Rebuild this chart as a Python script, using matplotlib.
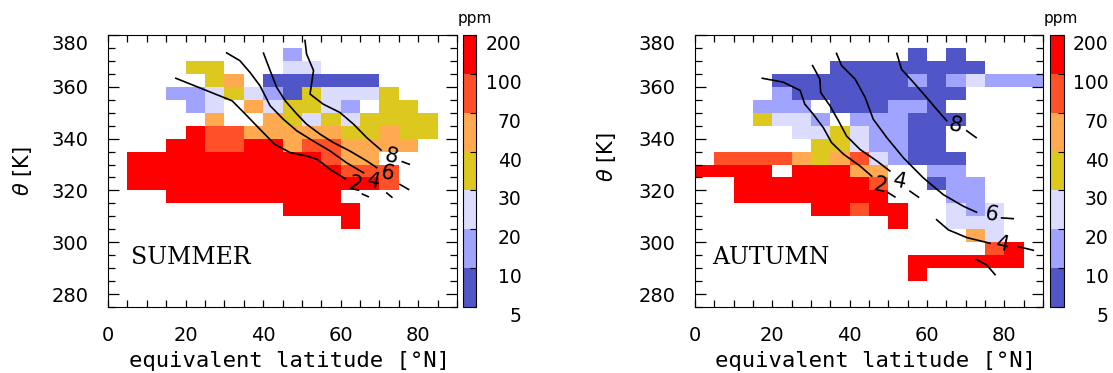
import numpy as np
import matplotlib
matplotlib.use("Agg")
from matplotlib import pyplot as plt
from matplotlib.colors import ListedColormap, BoundaryNorm
from matplotlib.transforms import blended_transform_factory

plt.rcParams['font.family'] = 'DejaVu Sans'
plt.rcParams['mathtext.fontset'] = 'dejavusans'

# 5 deg x 5 K cells
lat_edges = np.arange(0, 95, 5)
theta_edges = np.arange(275, 385, 5)

levels = [5, 10, 20, 30, 40, 70, 100, 200]
colors = ['#5055c8', '#a0a4ff', '#dcdcff', '#dcc81e', '#ffaa50', '#ff5028', '#ff0000']
# representative ppm for each class code (1 = 5-10 ... 7 = 100-200), '.' = no data
bin_ppm = {'1': 7, '2': 15, '3': 25, '4': 35, '5': 55, '6': 85, '7': 150}

# rows from top (375-380 K) to bottom (275-280 K), columns 0-5 ... 85-90 degN
summer_rows = [
    "..................",
    ".........2........",
    "....44...33.......",
    ".....45.111111....",
    "...223432143334...",
    "....23.534432.44..",
    ".....5..543434444.",
    "....7665555544544.",
    "...7766775665555..",
    ".7777777777655....",
    ".77777777777666...",
    ".77777777777776...",
    "...777777777......",
    ".........7777.....",
    "............7.....",
    "..................",
    "..................",
    "..................",
    "..................",
    "..................",
    "..................",
]

autumn_rows = [
    "..................",
    "...........1.1....",
    ".......11111111...",
    "....11111112123222",
    "....2111111111....",
    "...222.111221.....",
    "...4332.222111....",
    ".....33432211.....",
    "......4432211.....",
    ".6666545632111....",
    "7777.77755..22....",
    "..77777776..122...",
    "..77777777...22...",
    "......77677..323..",
    "..........7..333..",
    "..............53..",
    "...............67.",
    "...........777777.",
    "...........7......",
    "..................",
    "..................",
]

# contours: (label, lat, theta, label position, dash lat, dash theta)
summer_contours = [
    ("2", [17.5, 24.5, 32, 35, 39.2, 43, 47, 51.2, 54, 57.3, 61.2],
          [363.3, 359.1, 354.6, 350.1, 343.6, 337.8, 334.6, 333.3, 332, 328.1, 324.5],
          (63.8, 322.3), [65.6, 67.1], [318.6, 317.6]),
    ("4", [30.6, 34, 36.6, 39.2, 41.8, 45.2, 48.7, 52.9, 57.3, 61.5, 65.9],
          [373.1, 370.1, 365.6, 360.4, 352.7, 347.5, 343, 339.1, 335.2, 330.7, 326.8],
          (68.4, 323.4), [71.9, 73.2], [319, 317.4]),
    ("6", [40.1, 41.8, 43.5, 45.7, 48.7, 51.2, 54.7, 58.1, 62.4, 66.7, 69.3],
          [373, 366.3, 359.8, 354.6, 349.5, 345.6, 341.7, 338.5, 335.2, 331.4, 328.8],
          (72.0, 326.4), [75.3, 77.5], [322.3, 320.4]),
    ("8", [50.8, 51.2, 53, 52.1, 55.5, 59.8, 63.3, 66.7, 70.4],
          [377.9, 372.7, 366.3, 357.2, 353.3, 350.1, 345.6, 340.4, 335.6],
          (73.0, 333.2), [75.9, 77.7], [331.1, 330.1]),
]

autumn_contours = [
    ("2", [17.4, 22.8, 27.2, 28.4, 30.6, 33.2, 35.3, 38.4, 42.7, 45.7],
          [363.3, 361.8, 358.6, 353.3, 349.4, 344.2, 338.5, 334, 329.4, 325.5],
          (47.8, 321.8), [50, 51.7], [319.1, 317.5]),
    ("4", [30.4, 32.3, 32.5, 34.9, 37.1, 39.2, 42.7, 47, 50.4],
          [368.2, 363, 357.8, 352.7, 346.9, 341, 335.8, 331.4, 327.5],
          (53.0, 323.6), [55.6, 57.8], [319.7, 317.4]),
    ("6", [36.6, 37.9, 41.4, 44, 46.1, 49.6, 53.9, 59, 64.2, 69.4, 72.8],
          [372.9, 368.2, 363, 355.9, 347.5, 340.4, 332.6, 324.9, 318.4, 313.9, 311.6],
          (76.7, 310.7), [79.3, 82.3], [309.4, 309.1]),
    ("8", [52.2, 53.4, 56.5, 59.9, 62.1, 65.1],
          [372.9, 366.8, 361.7, 355.9, 352, 346.9],
          (67.2, 345.0), [70.3, 72.7], [343, 340.4]),
    ("4", [62.5, 65.5, 70.3, 76.3],
          [308.7, 304.8, 301.8, 299.6],
          (79.7, 299.2), [83.6, 87.5], [298.3, 296.9]),
]
autumn_extra_lat = [72.8, 75.4, 77.6]
autumn_extra_theta = [293.3, 291.3, 287.5]

cmap = ListedColormap(colors)
norm = BoundaryNorm(levels, cmap.N)


def grid(rows):
    z = np.full((len(rows), len(rows[0])), np.nan)
    for i, r in enumerate(rows):
        for j, c in enumerate(r):
            if c in bin_ppm:
                z[i, j] = bin_ppm[c]
    return z[::-1]   # pcolormesh wants the bottom row first


def panel(ax, cax, rows, contours, name, name_lat, ylab_y, ylab_x):
    mesh = ax.pcolormesh(lat_edges, theta_edges, grid(rows), cmap=cmap, norm=norm)
    for lab, lat, th, lpos, dlat, dth in contours:
        ax.plot(lat, th, color='k', lw=1.2)
        ax.plot(dlat, dth, color='k', lw=1.2)
        ax.text(lpos[0], lpos[1], lab, fontsize=15, rotation=-12,
                ha='center', va='center')
    ax.text(name_lat, 294, name, family='DejaVu Serif', fontsize=17, va='center')

    ax.set_xlim(0, 90)
    ax.set_ylim(275, 380)
    ax.set_xticks([0, 20, 40, 60, 80])
    ax.set_xticks(np.arange(0, 95, 5), minor=True)
    ax.set_yticks(np.arange(280, 381, 20))
    ax.set_yticks(np.arange(275, 381, 5), minor=True)
    ax.tick_params(which='both', direction='in', top=True, right=True,
                   labelsize=14, width=0.9)
    ax.tick_params(axis='y', which='major', length=8, pad=14)
    ax.tick_params(axis='x', which='major', length=5, pad=14)
    ax.tick_params(which='minor', length=5)
    ax.get_yticklabels()[-1].set_va('top')

    ax.set_xlabel('equivalent latitude [°N]', family='DejaVu Sans Mono', fontsize=16)
    ax.xaxis.set_label_coords(0.52, -0.2)
    ax.xaxis.label.set_va('center')
    ax.set_ylabel(r'$\theta$ [K]', fontsize=15)
    ax.yaxis.set_label_coords(ylab_x, ylab_y)
    ax.yaxis.label.set_va('center')

    cb = fig.colorbar(mesh, cax=cax, spacing='uniform', ticks=levels)
    cb.outline.set_linewidth(0.8)
    cax.tick_params(direction='in', length=4, width=0.8, labelright=False)
    tr = blended_transform_factory(cax.transAxes, cax.transData)
    for v in levels:
        cax.text(4.35, v, str(v), transform=tr, fontsize=13.5, ha='right', va='top')
    return mesh


fig = plt.figure(figsize=(11.13, 3.73), dpi=100)
W, H = 1113, 373
ax1 = fig.add_axes([108 / W, 66 / H, 349 / W, 272 / H])
cax1 = fig.add_axes([463 / W, 66 / H, 13.5 / W, 272 / H])
ax2 = fig.add_axes([695 / W, 66 / H, 348 / W, 272 / H])
cax2 = fig.add_axes([1050 / W, 66 / H, 13.5 / W, 272 / H])

panel(ax1, cax1, summer_rows, summer_contours, 'SUMMER', 5.9, 0.5, -0.244)
panel(ax2, cax2, autumn_rows, autumn_contours, 'AUTUMN', 4.4, 0.55, -0.253)
ax2.plot(autumn_extra_lat, autumn_extra_theta, color='k', lw=1.2)

fig.text(475 / W, 1 - 18 / H, 'ppm', fontsize=11, ha='center', va='center')
fig.text(1061 / W, 1 - 18 / H, 'ppm', fontsize=11, ha='center', va='center')

fig.savefig('out.png', dpi=100)
